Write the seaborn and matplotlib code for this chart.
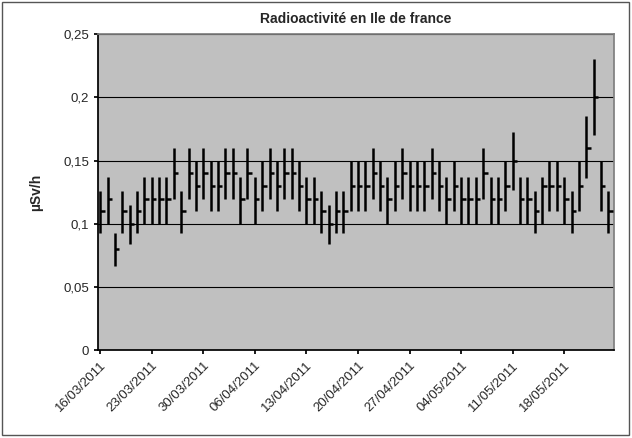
import numpy as np
import pandas as pd
import matplotlib
matplotlib.use("Agg")
import matplotlib.pyplot as plt
import seaborn as sns

# daily readings, 16/03/2011 -> 24/05/2011 (µSv/h)
dates = pd.date_range("2011-03-16", periods=70, freq="D")
highs = [.126, .137, .093, .126, .115, .126, .137, .137, .137, .137,
         .16, .126, .16, .15, .16, .15, .15, .16, .16, .137,
         .16, .137, .15, .16, .15, .16, .16, .15, .137, .137,
         .126, .115, .126, .126, .15, .15, .15, .16, .15, .137,
         .15, .16, .15, .15, .15, .16, .15, .137, .15, .137,
         .137, .137, .16, .137, .137, .15, .173, .137, .137, .126,
         .137, .15, .15, .137, .126, .15, .185, .23, .15, .126]
lows = [.093, .10, .067, .093, .084, .093, .10, .10, .10, .10,
        .12, .093, .12, .11, .12, .11, .11, .12, .12, .10,
        .12, .10, .11, .12, .11, .12, .12, .11, .10, .10,
        .093, .084, .093, .093, .11, .11, .11, .12, .11, .10,
        .11, .12, .11, .11, .11, .12, .11, .10, .11, .10,
        .10, .10, .12, .10, .10, .11, .127, .10, .10, .093,
        .10, .11, .11, .10, .093, .11, .136, .17, .11, .093]
closes = [.11, .12, .08, .11, .10, .11, .12, .12, .12, .12,
          .14, .11, .14, .13, .14, .13, .13, .14, .14, .12,
          .14, .12, .13, .14, .13, .14, .14, .13, .12, .12,
          .11, .10, .11, .11, .13, .13, .13, .14, .13, .12,
          .13, .14, .13, .13, .13, .14, .13, .12, .13, .12,
          .12, .12, .14, .12, .12, .13, .15, .12, .12, .11,
          .13, .13, .13, .12, .11, .13, .16, .20, .13, .11]
y_ticks = [0, 0.05, 0.1, 0.15, 0.2, 0.25]
y_labels = ["0", "0,05", "0,1", "0,15", "0,2", "0,25"]

df = pd.DataFrame({"date": dates, "high": highs, "low": lows, "close": closes})
df["day"] = np.arange(len(df))

sns.set_theme(style="white")
plt.rcParams["font.family"] = ["Liberation Sans", "DejaVu Sans"]

fig, ax = plt.subplots(figsize=(6.32, 4.38), dpi=100)
fig.subplots_adjust(left=0.155, right=0.972, top=0.922, bottom=0.2)
ax.set_facecolor("#C0C0C0")

for v in y_ticks[1:]:
    ax.axhline(v, color="black", linewidth=0.8, zorder=1)

ax.vlines(df["day"], df["low"], df["high"], color="black", linewidth=1.8, zorder=3)
ax.hlines(df["close"], df["day"], df["day"] + 0.6, color="black", linewidth=1.8, zorder=3)

ax.set_xlim(-0.3, 69.8)
ax.set_ylim(0, 0.25)
ax.set_yticks(y_ticks)
ax.set_yticklabels(y_labels, fontsize=9.5)
week = df.iloc[::7]
ax.set_xticks(week["day"])
ax.set_xticklabels(week["date"].dt.strftime("%d/%m/%Y"), rotation=45, ha="right",
                   rotation_mode="anchor", fontsize=9.5)
ax.tick_params(axis="both", length=3, direction="out", color="black", bottom=True, left=True)
for s in ["top", "right"]:
    ax.spines[s].set_color("#808080")
for s in ["left", "bottom"]:
    ax.spines[s].set_color("black")

ax.set_title("Radioactivité en Ile de france", fontsize=10, fontweight="bold", pad=8)
ax.set_ylabel("µSv/h", fontsize=10, fontweight="bold", labelpad=14)

fig.patches.append(plt.Rectangle((0.003, 0.006), 0.992, 0.99, transform=fig.transFigure,
                                 fill=False, edgecolor="#555555", linewidth=1))
fig.savefig("out.png", dpi=100)
